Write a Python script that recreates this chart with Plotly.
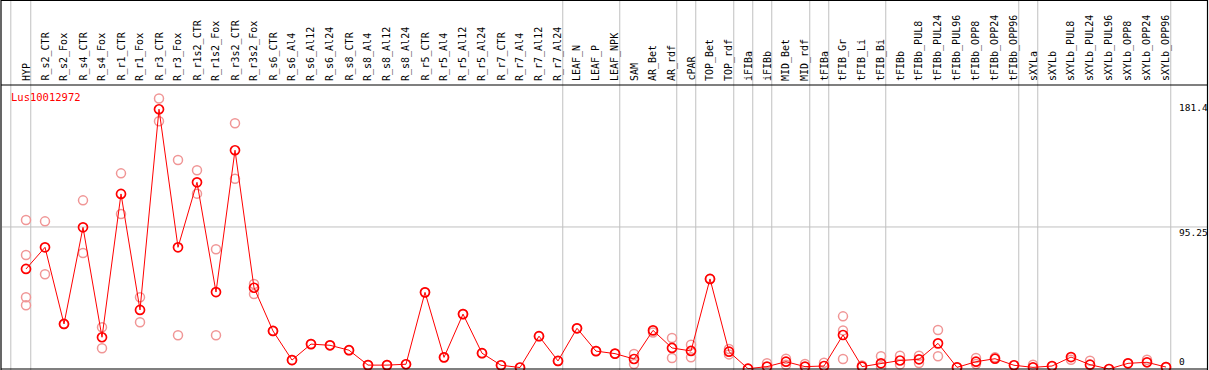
import plotly.graph_objects as go

W, H = 1209, 370

gene = "Lus10012972"

categories = [
    "HYP", "R_s2_CTR", "R_s2_Fox", "R_s4_CTR", "R_s4_Fox", "R_r1_CTR", "R_r1_Fox",
    "R_r3_CTR", "R_r3_Fox", "R_r1s2_CTR", "R_r1s2_Fox", "R_r3s2_CTR", "R_r3s2_Fox",
    "R_s6_CTR", "R_s6_Al4", "R_s6_Al12", "R_s6_Al24", "R_s8_CTR", "R_s8_Al4",
    "R_s8_Al12", "R_s8_Al24", "R_r5_CTR", "R_r5_Al4", "R_r5_Al12", "R_r5_Al24",
    "R_r7_CTR", "R_r7_Al4", "R_r7_Al12", "R_r7_Al24", "LEAF_N", "LEAF_P", "LEAF_NPK",
    "SAM", "AR_Bet", "AR_rdf", "cPAR", "TOP_Bet", "TOP_rdf", "iFIBa", "iFIBb",
    "MID_Bet", "MID_rdf", "tFIBa", "tFIB_Gr", "tFIB_Li", "tFIB_Bi", "tFIBb",
    "tFIBb_PUL8", "tFIBb_PUL24", "tFIBb_PUL96", "tFIBb_OPP8", "tFIBb_OPP24",
    "tFIBb_OPP96", "sXYLa", "sXYLb", "sXYLb_PUL8", "sXYLb_PUL24", "sXYLb_PUL96",
    "sXYLb_OPP8", "sXYLb_OPP24", "sXYLb_OPP96",
]

means = [
    67.1, 81.6, 30.2, 95.0, 21.3, 117.4, 39.6, 174.2, 81.6, 125.2, 51.6, 146.7, 54.5,
    25.5, 6.0, 16.7, 15.9, 12.6, 2.6, 2.6, 3.2, 51.4, 7.8, 36.8, 10.6, 2.5, 1.0, 22.0,
    5.4, 27.3, 12.0, 10.3, 6.7, 25.9, 14.1, 12.1, 60.4, 11.6, 0.2, 1.6, 4.9, 1.6, 2.0,
    22.8, 1.6, 3.8, 5.7, 6.5, 17.2, 1.1, 4.9, 6.9, 2.5, 1.1, 2.0, 8.0, 2.9, 0.0, 3.8,
    4.5, 1.3,
]

replicates = [
    [99.9, 76.4, 48.1, 42.7], [99.0, 63.5], [30.2], [113.1, 77.8], [28.0, 13.9],
    [131.2, 103.9], [48.1, 31.3], [181.4, 166.1], [140.2, 22.6], [133.3, 117.6],
    [80.3, 22.6], [164.8, 127.6], [57.0, 50.3], [25.5], [6.0], [16.7], [15.9], [12.6],
    [2.6], [2.6], [3.2], [51.4], [7.8], [36.8], [10.6], [2.5], [1.0], [22.0], [5.4],
    [27.3], [12.0], [10.3], [10.1, 3.4], [24.4], [20.8, 7.4], [16.3, 7.8], [60.4],
    [13.4, 9.8], [0.2], [3.8], [6.9, 2.9], [3.4], [4.2], [35.3, 25.9, 6.7], [2.3],
    [8.5, 1.6], [8.9, 3.1], [8.9, 4.0], [26.2, 8.5], [1.1], [7.4, 3.4], [7.8], [2.5],
    [2.9], [1.6], [6.2], [5.6], [0.0], [3.8], [6.2], [1.3],
]

# sizes of sample groups (separated by grey vertical lines)
group_sizes = [1, 28, 3, 3, 1, 2, 1, 1, 2, 1, 3, 7, 1, 7]

y_ticks = [181.4, 95.25, 0]
y_tick_labels = ["181.4", "95.25", "0"]

# ---------------- layout geometry (pixels) ----------------
X0, DX = 26.0, 19.0          # pixel x of first category, spacing
Y0, DY = 369.0, 1.4912       # pixel y of value 0, pixels per unit
HEADER_Y = 85                # line separating header and plot

x_range = [(0 - X0) / DX, (W - X0) / DX]
y_range = [(Y0 - H) / DY, Y0 / DY]


def px(x):
    return x / W


def py(y):
    return 1 - y / H


idx = list(range(len(categories)))
rx, ry = [], []
for i, reps in enumerate(replicates):
    for v in reps:
        rx.append(i)
        ry.append(v)

fig = go.Figure()
fig.add_trace(go.Scatter(
    x=rx, y=ry, mode="markers", cliponaxis=False,
    marker=dict(symbol="circle-open", size=9, color="rgb(240,150,150)",
                line=dict(width=1.5, color="rgb(240,150,150)")),
    hoverinfo="skip", showlegend=False,
))
fig.add_trace(go.Scatter(
    x=idx, y=means, mode="lines+markers", cliponaxis=False,
    line=dict(color="#ff0000", width=1),
    marker=dict(symbol="circle-open", size=9, color="#ff0000",
                line=dict(width=1.7, color="#ff0000")),
    showlegend=False,
))

shapes = []
# grey group separator lines
bounds = [-0.8]
c = 0
for g in group_sizes:
    c += g
    bounds.append(c - 1 + 0.25)
for b in bounds:
    shapes.append(dict(type="line", xref="x", yref="paper", x0=b, x1=b, y0=0, y1=1,
                       line=dict(color="#c0c0c0", width=1), layer="below"))
# grey horizontal line at middle tick
shapes.append(dict(type="line", xref="paper", yref="y", x0=px(2), x1=px(1207),
                   y0=y_ticks[1], y1=y_ticks[1],
                   line=dict(color="#c0c0c0", width=1), layer="below"))
# black frame
frame = [
    (1, 0.5, 1207.5, 0.5), (1, HEADER_Y, 1207.5, HEADER_Y),
    (1, 369, 1207.5, 369), (1, 0, 1, 370), (1207.5, 0, 1207.5, 370),
]
for (xa, ya, xb, yb) in frame:
    shapes.append(dict(type="line", xref="paper", yref="paper",
                       x0=px(xa), x1=px(xb), y0=py(ya), y1=py(yb),
                       line=dict(color="black", width=1.2), layer="above"))

annotations = []
for i, name in enumerate(categories):
    annotations.append(dict(
        x=i, xref="x", y=py(83), yref="paper", text=name, textangle=-90,
        showarrow=False, xanchor="center", yanchor="bottom",
        font=dict(family="DejaVu Sans Mono", size=10, color="black"),
    ))
annotations.append(dict(
    x=px(9), xref="paper", y=py(97), yref="paper", text=gene, showarrow=False,
    xanchor="left", yanchor="middle",
    font=dict(family="DejaVu Sans Mono", size=10.5, color="#ff0000"),
))
label_py = [107.5, 232, 361.5]
for t, lp in zip(y_tick_labels, label_py):
    annotations.append(dict(
        x=px(1177), xref="paper", y=py(lp), yref="paper", text=t, showarrow=False,
        xanchor="left", yanchor="middle",
        font=dict(family="DejaVu Sans Mono", size=9.5, color="black"),
    ))

fig.update_layout(
    width=W, height=H, margin=dict(l=0, r=0, t=0, b=0, pad=0),
    paper_bgcolor="white", plot_bgcolor="white",
    xaxis=dict(range=x_range, visible=False, showgrid=False, zeroline=False),
    yaxis=dict(range=y_range, visible=False, showgrid=False, zeroline=False),
    shapes=shapes, annotations=annotations, showlegend=False,
)

fig.write_html("out.html", config={"displayModeBar": False},
               post_script="document.body.style.margin='0';document.body.style.overflow='hidden';")
